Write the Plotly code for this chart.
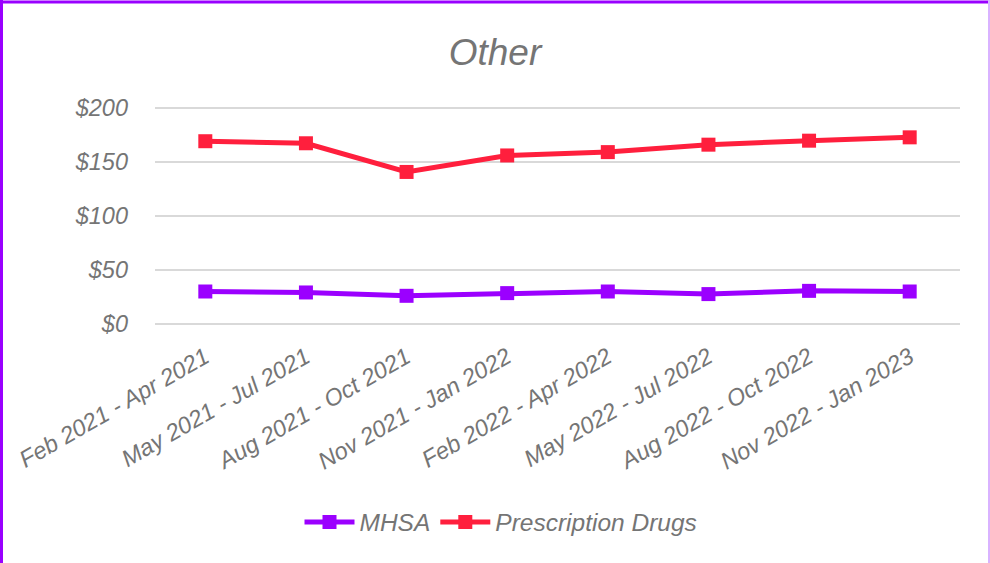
import plotly.graph_objects as go

categories = ["Feb 2021 - Apr 2021", "May 2021 - Jul 2021", "Aug 2021 - Oct 2021",
              "Nov 2021 - Jan 2022", "Feb 2022 - Apr 2022", "May 2022 - Jul 2022",
              "Aug 2022 - Oct 2022", "Nov 2022 - Jan 2023"]
mhsa = [30.0, 29.1, 26.0, 28.5, 30.0, 27.6, 30.6, 30.0]
rx = [169.4, 167.5, 140.9, 156.2, 159.3, 166.2, 169.9, 173.0]
y_ticks = [0, 50, 100, 150, 200]
y_tick_labels = ["$0", "$50", "$100", "$150", "$200"]

W, H = 990, 563
Y0, Y1 = -2.0, 203.0
# pixel rows of $0 and $200 gridlines in the target
PY0, PY200 = 324, 108
pxper = (PY0 - PY200) / 200.0
T = round(PY200 - (Y1 - 200) * pxper)
Bpix = PY0 + (0 - Y0) * pxper
L, R = 155, 30
B = round(H - Bpix)
FONT = "Liberation Sans"
GRAY = "#757575"

def px(x):
    return (x - L) / (W - L - R)

def py(y):
    return (H - B - y) / (H - T - B)

fig = go.Figure()
fig.add_trace(go.Scatter(x=categories, y=mhsa, name="MHSA", mode="lines+markers",
                         line=dict(color="#9B00FF", width=5),
                         marker=dict(symbol="square", size=14, color="#9B00FF")))
fig.add_trace(go.Scatter(x=categories, y=rx, name="Prescription Drugs", mode="lines+markers",
                         line=dict(color="#FF1F3D", width=5),
                         marker=dict(symbol="square", size=14, color="#FF1F3D")))

fig.update_layout(
    width=W, height=H,
    margin=dict(l=L, r=R, t=T, b=B, autoexpand=False),
    paper_bgcolor="white", plot_bgcolor="white",
    font=dict(family=FONT, color=GRAY, size=23),
    title=dict(text="<i>Other</i>", x=0.5, xref="container", y=1 - 52 / H,
               yref="container", xanchor="center", yanchor="middle",
               font=dict(size=37, color=GRAY, family=FONT)),
    xaxis=dict(type="category", showgrid=False, zeroline=False, showline=False,
               tickangle=-30, ticks="", ticklabelstandoff=12,
               tickfont=dict(size=23.5, color=GRAY, family=FONT, style="italic"),
               range=[-0.5, len(categories) - 0.5]),
    yaxis=dict(range=[Y0, Y1], tickvals=y_ticks, ticktext=y_tick_labels,
               showgrid=True, gridcolor="#D9D9D9", gridwidth=2,
               zeroline=True, zerolinecolor="#D9D9D9", zerolinewidth=2,
               showline=False, ticks="", ticklabelstandoff=26,
               tickfont=dict(size=23.5, color=GRAY, family=FONT, style="italic")),
    legend=dict(orientation="h", x=px(501), xanchor="center", y=py(522), yanchor="middle",
                font=dict(size=24.5, color=GRAY, family=FONT, style="italic"),
                itemwidth=50, bgcolor="rgba(0,0,0,0)"),
    showlegend=True,
)

# outer chart border (purple), partially cropped in the reference
fig.add_shape(type="line", xref="paper", yref="paper", x0=px(0), x1=px(990), y0=py(2), y1=py(2),
              line=dict(color="#9900FF", width=3), layer="above")
fig.add_shape(type="line", xref="paper", yref="paper", x0=px(1.5), x1=px(1.5), y0=py(0), y1=py(563),
              line=dict(color="#9900FF", width=3), layer="above")
fig.add_shape(type="line", xref="paper", yref="paper", x0=px(989), x1=px(989), y0=py(0), y1=py(563),
              line=dict(color="#D9B3FF", width=2), layer="above")

fig.write_html("out.html", config={"displayModeBar": False},
               post_script="document.body.style.margin='0';")
